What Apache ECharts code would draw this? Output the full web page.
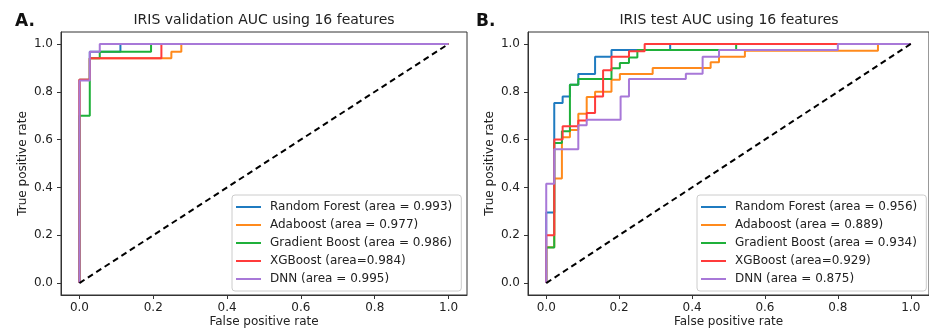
<!DOCTYPE html>
<html>
<head>
<meta charset="utf-8">
<script src="https://cdn.jsdelivr.net/npm/echarts@6/dist/echarts.min.js"></script>
<style>
html,body{margin:0;padding:0;background:#fff;}
#chart{width:929px;height:333px;}
</style>
</head>
<body>
<div id="chart"></div>
<script>
// ---- Data (fpr, tpr) vertices of ROC curves ----
const tickValues = [0, 0.2, 0.4, 0.6, 0.8, 1.0];
const diagonal = [[0, 0], [1, 1]];

// Panel A: validation
const valNames = [
  'Random Forest (area = 0.993)',
  'Adaboost (area = 0.977)',
  'Gradient Boost (area = 0.986)',
  'XGBoost (area=0.984)',
  'DNN (area = 0.995)'
];
const valRF = [[0,0],[0,0.85],[0.028,0.85],[0.028,0.967],[0.111,0.967],[0.111,1],[1,1]];
const valAda = [[0,0],[0,0.85],[0.028,0.85],[0.028,0.94],[0.249,0.94],[0.249,0.967],[0.276,0.967],[0.276,1],[1,1]];
const valGB = [[0,0],[0,0.7],[0.028,0.7],[0.028,0.94],[0.055,0.94],[0.055,0.967],[0.194,0.967],[0.194,1],[1,1]];
const valXGB = [[0,0],[0,0.85],[0.028,0.85],[0.028,0.94],[0.222,0.94],[0.222,1],[1,1]];
const valDNN = [[0,0],[0,0.847],[0.028,0.847],[0.028,0.967],[0.055,0.967],[0.055,1],[1,1]];

// Panel B: test
const testNames = [
  'Random Forest (area = 0.956)',
  'Adaboost (area = 0.889)',
  'Gradient Boost (area = 0.934)',
  'XGBoost (area=0.929)',
  'DNN (area = 0.875)'
];
const testRF = [[0,0],[0,0.295],[0.022,0.295],[0.022,0.753],[0.045,0.753],[0.045,0.78],[0.065,0.78],[0.065,0.829],[0.088,0.829],[0.088,0.874],[0.134,0.874],[0.134,0.947],[0.179,0.947],[0.179,0.975],[0.34,0.975],[0.34,1],[1,1]];
const testAda = [[0,0],[0,0.15],[0.022,0.15],[0.022,0.4375],[0.043,0.4375],[0.043,0.61],[0.065,0.61],[0.065,0.64],[0.088,0.64],[0.088,0.708],[0.111,0.708],[0.111,0.778],[0.134,0.778],[0.134,0.80],[0.179,0.80],[0.179,0.85],[0.202,0.85],[0.202,0.874],[0.292,0.874],[0.292,0.899],[0.451,0.899],[0.451,0.924],[0.474,0.924],[0.474,0.947],[0.545,0.947],[0.545,0.972],[0.91,0.972],[0.91,1],[1,1]];
const testGB = [[0,0],[0,0.149],[0.022,0.149],[0.022,0.586],[0.043,0.586],[0.043,0.635],[0.065,0.635],[0.065,0.829],[0.088,0.829],[0.088,0.853],[0.179,0.853],[0.179,0.898],[0.202,0.898],[0.202,0.92],[0.227,0.92],[0.227,0.943],[0.25,0.943],[0.25,0.975],[0.521,0.975],[0.521,1],[1,1]];
const testXGB = [[0,0],[0,0.2],[0.022,0.2],[0.022,0.6],[0.045,0.6],[0.045,0.656],[0.088,0.656],[0.088,0.68],[0.111,0.68],[0.111,0.711],[0.134,0.711],[0.134,0.78],[0.156,0.78],[0.156,0.89],[0.179,0.89],[0.179,0.947],[0.227,0.947],[0.227,0.97],[0.27,0.97],[0.27,1],[1,1]];
const testDNN = [[0,0],[0,0.415],[0.022,0.415],[0.022,0.56],[0.088,0.56],[0.088,0.66],[0.111,0.66],[0.111,0.683],[0.204,0.683],[0.204,0.78],[0.227,0.78],[0.227,0.853],[0.383,0.853],[0.383,0.875],[0.429,0.875],[0.429,0.947],[0.474,0.947],[0.474,0.975],[0.8,0.975],[0.8,1],[1,1]];

const colors = ['#1f7bc0', '#ff8a1c', '#1fb03a', '#ff3b3b', '#a878d8'];
const font = 'DejaVu Sans';
const txt = '#222';

function curve(name, data, idx, color) {
  return {
    name: name, type: 'line', data: data, xAxisIndex: idx, yAxisIndex: idx,
    showSymbol: false, symbol: 'none', animation: false,
    lineStyle: { color: color, width: 2 }, itemStyle: { color: color }
  };
}
function diag(idx) {
  return {
    type: 'line', data: diagonal, xAxisIndex: idx, yAxisIndex: idx,
    showSymbol: false, symbol: 'none', animation: false, silent: true,
    lineStyle: { color: '#000', width: 2, type: [6, 4] }
  };
}
function xAx(idx) {
  return {
    type: 'value', gridIndex: idx, min: -0.05, max: 1.05,
    name: 'False positive rate', nameLocation: 'middle', nameGap: 21, nameMoveOverlap: false,
    nameTextStyle: { fontFamily: font, fontSize: 12, color: txt },
    axisLine: { show: true, onZero: false, lineStyle: { color: '#333', width: 1 } },
    axisTick: { show: true, length: 4, lineStyle: { color: '#333' }, customValues: tickValues },
    axisLabel: { customValues: tickValues, formatter: v => v.toFixed(1), margin: 7,
      fontFamily: font, fontSize: 12, color: txt },
    splitLine: { show: false }
  };
}
function yAx(idx) {
  return {
    type: 'value', gridIndex: idx, min: -0.05, max: 1.05,
    name: 'True positive rate', nameLocation: 'middle', nameGap: 32, nameMoveOverlap: false,
    nameTextStyle: { fontFamily: font, fontSize: 12, color: txt },
    axisLine: { show: true, onZero: false, lineStyle: { color: '#333', width: 1 } },
    axisTick: { show: true, length: 4, lineStyle: { color: '#333' }, customValues: tickValues },
    axisLabel: { customValues: tickValues, formatter: v => v.toFixed(1), margin: 8,
      fontFamily: font, fontSize: 12, color: txt },
    splitLine: { show: false }
  };
}
function legend(names, left) {
  return {
    data: names, orient: 'vertical', left: left, top: 195,
    padding: [5, 9, 5, 4], itemGap: 4, itemWidth: 25, itemHeight: 2, icon: 'rect',
    backgroundColor: 'rgba(255,255,255,0.85)', borderColor: '#ccc', borderWidth: 1, borderRadius: 3,
    textStyle: { fontFamily: font, fontSize: 12, color: txt, lineHeight: 14, padding: [0, 0, 0, 4] },
    selectedMode: false
  };
}

const valData = [valRF, valAda, valGB, valXGB, valDNN];
const testData = [testRF, testAda, testGB, testXGB, testDNN];
const series = [];
valData.forEach((d, i) => series.push(curve(valNames[i], d, 0, colors[i])));
series.push(diag(0));
testData.forEach((d, i) => series.push(curve(testNames[i], d, 1, colors[i])));
series.push(diag(1));

const chart = echarts.init(document.getElementById('chart'), null, { renderer: 'canvas' });
chart.setOption({
  backgroundColor: '#fff',
  animation: false,
  title: [
    { text: 'IRIS validation AUC using 16 features', left: 264, top: 13, padding: 0, textAlign: 'center',
      textStyle: { fontFamily: font, fontSize: 14, fontWeight: 'normal', color: txt } },
    { text: 'IRIS test AUC using 16 features', left: 729, top: 13, padding: 0, textAlign: 'center',
      textStyle: { fontFamily: font, fontSize: 14, fontWeight: 'normal', color: txt } },
    { text: 'A.', left: 15, top: 13, padding: 0,
      textStyle: { fontFamily: font, fontSize: 17, fontWeight: 'bold', color: '#111' } },
    { text: 'B.', left: 476, top: 13, padding: 0,
      textStyle: { fontFamily: font, fontSize: 17, fontWeight: 'bold', color: '#111' } }
  ],
  grid: [
    { left: 61, top: 32, width: 406, height: 264, show: true, borderColor: '#333', borderWidth: 1, backgroundColor: 'transparent' },
    { left: 528, top: 32, width: 403, height: 264, show: true, borderColor: '#333', borderWidth: 1, backgroundColor: 'transparent' }
  ],
  xAxis: [xAx(0), xAx(1)],
  yAxis: [yAx(0), yAx(1)],
  legend: [legend(valNames, 232), legend(testNames, 697)],
  series: series
});
</script>
</body>
</html>
